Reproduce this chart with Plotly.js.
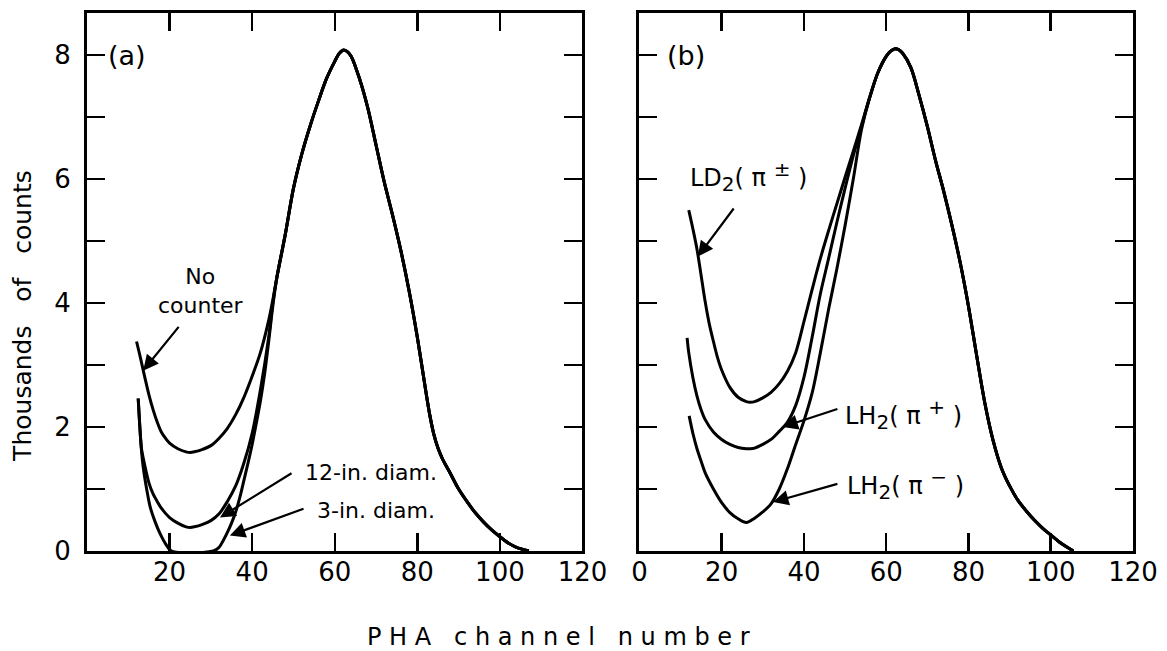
<!DOCTYPE html>
<html>
<head>
<meta charset="utf-8">
<script src="https://cdn.plot.ly/plotly-3.0.1.min.js"></script>
<style>html,body{margin:0;padding:0;background:#fff;}#chart{width:1167px;height:651px;}</style>
</head>
<body>
<div id="chart"></div>
<script>
// ---------- Panel (a) ----------
const peakA_X = [46,48,50,52,54,56,58,60,61,62,63,64,66,68,70,72,74,76,78,80,82,83,84,85,86,88,90,92,94,96,98,100,102,104,107];
const peakA_Y = [4.42,5.1,5.85,6.4,6.85,7.25,7.62,7.9,8.02,8.08,8.06,7.98,7.62,7.15,6.55,5.95,5.42,4.85,4.2,3.45,2.6,2.2,1.88,1.66,1.5,1.25,1.0,0.8,0.62,0.47,0.34,0.23,0.13,0.06,0];

const noCounterX = [12,13,14,15,16,17,18,19,20,22,24,25,26,28,30,32,34,36,38,40,42,44,45];
const noCounterY = [3.38,3.1,2.8,2.52,2.28,2.08,1.92,1.82,1.74,1.65,1.6,1.59,1.6,1.64,1.7,1.82,1.98,2.2,2.48,2.82,3.2,3.72,4.05];

const in12X = [12.4,12.8,13.2,14,15,16,17,18,20,22,24,25,26,28,30,32,34,36,38,40,42,44,45];
const in12Y = [2.46,2.0,1.65,1.38,1.1,0.92,0.8,0.69,0.54,0.45,0.39,0.38,0.39,0.43,0.49,0.6,0.8,1.05,1.42,1.9,2.6,3.45,4.0];

const in3X = [12.4,12.8,13.2,13.6,14.5,15.3,16.5,17.7,19,20.5,30.6,32,33,34,35,36,37,38,39,40,41,42,43,44,45];
const in3Y = [2.46,2.0,1.62,1.36,0.98,0.71,0.47,0.28,0.12,0,0,0.06,0.17,0.3,0.45,0.63,0.86,1.14,1.42,1.72,2.06,2.42,2.85,3.38,3.95];

// ---------- Panel (b) ----------
const peakB_X = [56,58,60,61,62,63,64,66,68,70,72,74,76,78,80,82,84,86,88,90,92,94,96,98,100,102,104,105.5];
const peakB_Y = [7.32,7.72,7.98,8.06,8.1,8.09,8.03,7.8,7.35,6.85,6.3,5.8,5.25,4.65,3.95,3.15,2.38,1.78,1.34,1.05,0.82,0.65,0.5,0.37,0.26,0.15,0.06,0];

const ld2X = [12,13,14,15,16,17,18,19,20,22,24,26,27,28,30,32,34,36,38,40,42,44,46,48,50,52,54];
const ld2Y = [5.5,5.2,4.87,4.45,4.02,3.66,3.38,3.12,2.92,2.64,2.48,2.41,2.4,2.41,2.47,2.56,2.7,2.9,3.2,3.7,4.22,4.72,5.17,5.6,6.03,6.45,6.88];

const lh2pX = [11.6,12,13,14,15,16,18,20,22,24,26,27,28,30,32,34,36,38,40,42,44,46,48,50,52,54];
const lh2pY = [3.44,3.2,2.8,2.5,2.28,2.12,1.92,1.8,1.72,1.67,1.65,1.65,1.66,1.72,1.8,1.93,2.08,2.35,2.8,3.45,4.15,4.72,5.3,5.85,6.38,6.85];

const lh2mX = [12.1,13,14,15,16,18,20,22,24,26,28,30,32,34,36,38,40,42,44,46,48,50,52,54];
const lh2mY = [2.18,1.9,1.65,1.45,1.26,1.0,0.78,0.62,0.52,0.46,0.53,0.63,0.76,1.0,1.33,1.72,2.1,2.55,3.2,3.9,4.55,5.25,6.0,6.8];

// ---------- Axis ticks ----------
const xTickVals = [0,20,40,60,80,100,120];
const xTickTextA = ['','20','40','60','80','100','120'];
const xTickTextB = ['0','20','40','60','80','100','120'];
const yTickVals = [0,1,2,3,4,5,6,7,8];
const yTickTextA = ['0','','2','','4','','6','','8'];
const yTickTextB = ['','','','','','','','',''];

const FONT = 'DejaVu Sans, Liberation Sans, sans-serif';
const lineStyle = {color:'#000', width:3, shape:'spline', smoothing:0.9};

function curve(x, y, cx, cy, xa, ya) {
  return {x: x.concat(cx), y: y.concat(cy), xaxis: xa, yaxis: ya, mode:'lines',
          line: lineStyle, hoverinfo:'skip', showlegend:false};
}

const traces = [
  curve(noCounterX, noCounterY, peakA_X, peakA_Y, 'x', 'y'),
  curve(in12X, in12Y, peakA_X, peakA_Y, 'x', 'y'),
  curve(in3X, in3Y, peakA_X, peakA_Y, 'x', 'y'),
  curve(ld2X, ld2Y, peakB_X, peakB_Y, 'x2', 'y2'),
  curve(lh2pX, lh2pY, peakB_X, peakB_Y, 'x2', 'y2'),
  curve(lh2mX, lh2mY, peakB_X, peakB_Y, 'x2', 'y2')
];

function xAxis(domain, ticktext, anchor) {
  return {domain: domain, range:[0,120], anchor: anchor, tickvals: xTickVals, ticktext: ticktext,
    ticks:'inside', ticklen:18, tickwidth:2.5, tickcolor:'#000',
    showline:true, linewidth:3, linecolor:'#000', mirror:'ticks',
    showgrid:false, zeroline:false, ticklabelstandoff:-4,
    tickfont:{family:FONT, size:26, color:'#000'}, fixedrange:true};
}
function yAxis(ticktext, anchor) {
  return {domain:[0,1], range:[0,8.68], anchor: anchor, tickvals: yTickVals, ticktext: ticktext,
    ticks:'inside', ticklen:18, tickwidth:2.5, tickcolor:'#000',
    showline:true, linewidth:3, linecolor:'#000', mirror:'ticks',
    showgrid:false, zeroline:false, ticklabelstandoff:8,
    tickfont:{family:FONT, size:26, color:'#000'}, fixedrange:true};
}

function arrow(xref, yref, x, y, ax, ay) {
  return {xref:xref, yref:yref, x:x, y:y, axref:xref, ayref:yref, ax:ax, ay:ay,
    text:'', showarrow:true, arrowhead:2, arrowsize:1.4, arrowwidth:2.2, arrowcolor:'#000'};
}
function label(xref, yref, x, y, text, xanchor, size) {
  return {xref:xref, yref:yref, x:x, y:y, text:text, showarrow:false, xanchor:xanchor||'left',
    yanchor:'middle', align:'center', font:{family:FONT, size:size||21, color:'#000'}};
}

const SUB = (s) => '<sub><span style="font-size:20px">' + s + '</span></sub>';
const SUP = (s) => '<sup><span style="font-size:20px">' + s + '</span></sup>';

const annotations = [
  // panel labels
  label('x','y',4.6,8.0,'(a)','left',27),
  label('x2','y2',6.2,8.0,'(b)','left',27),
  // panel (a) labels
  label('x','y',27.7,4.2,'No<br>counter','center',22),
  label('x','y',52.3,1.27,'12-in. diam.','left',22),
  label('x','y',55.2,0.66,'3-in. diam.','left',22),
  arrow('x','y',13.6,2.91,22.5,3.64),
  arrow('x','y',32.2,0.54,49.9,1.27),
  arrow('x','y',34.6,0.25,52.8,0.69),
  // panel (b) labels
  label('x2','y2',11.8,6.05,'LD' + SUB('2') + '( π ' + SUP('±') + ' )','left',24),
  label('x2','y2',49.5,2.2,'LH' + SUB('2') + '( π ' + SUP('+') + ' )','left',24),
  label('x2','y2',50.0,1.07,'LH' + SUB('2') + '( π ' + SUP('−') + ' )','left',24),
  arrow('x2','y2',14.2,4.75,23.2,5.55),
  arrow('x2','y2',34.8,2.0,48.5,2.3),
  arrow('x2','y2',32.5,0.79,48.5,1.09),
  // axis titles
  {xref:'paper', yref:'paper', x:-0.0612, y:0.437, text:'Thousands   of   counts', textangle:-90,
   showarrow:false, xanchor:'center', yanchor:'middle', font:{family:FONT, size:25, color:'#000'}},
  {xref:'paper', yref:'paper', x:0.451, y:-0.16, text:'P H A   c h a n n e l   n u m b e r',
   showarrow:false, xanchor:'center', yanchor:'middle', font:{family:FONT, size:24, color:'#000'}}
];

const layout = {
  width:1167, height:651,
  margin:{l:87, r:34, t:13, b:100, pad:0},
  paper_bgcolor:'#fff', plot_bgcolor:'#fff',
  showlegend:false,
  xaxis: xAxis([0,0.4737], xTickTextA, 'y'),
  yaxis: yAxis(yTickTextA, 'x'),
  xaxis2: xAxis([0.5281,1], xTickTextB, 'y2'),
  yaxis2: yAxis(yTickTextB, 'x2'),
  annotations: annotations
};

Plotly.newPlot('chart', traces, layout, {displayModeBar:false, staticPlot:true});
</script>
</body>
</html>
